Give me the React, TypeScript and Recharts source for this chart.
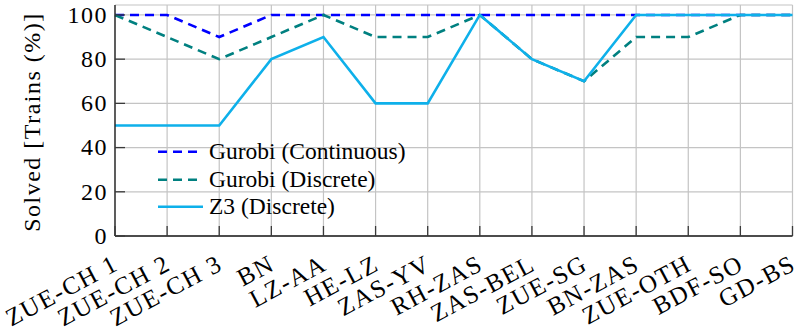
import React from 'react';
import { LineChart, Line, XAxis, YAxis, CartesianGrid, Legend } from 'recharts';

// Share of trains solved per instance, in percent
const categories = [
  'ZUE-CH 1', 'ZUE-CH 2', 'ZUE-CH 3', 'BN', 'LZ-AA', 'HE-LZ', 'ZAS-YV',
  'RH-ZAS', 'ZAS-BEL', 'ZUE-SG', 'BN-ZAS', 'ZUE-OTH', 'BDF-SO', 'GD-BS',
];
const gurobiContinuous = [100, 100, 90, 100, 100, 100, 100, 100, 100, 100, 100, 100, 100, 100];
const gurobiDiscrete = [100, 90, 80, 90, 100, 90, 90, 100, 80, 70, 90, 90, 100, 100];
const z3Discrete = [50, 50, 50, 80, 90, 60, 60, 100, 80, 70, 100, 100, 100, 100];
const yTicks = [0, 20, 40, 60, 80, 100];

const seriesNames = ['Gurobi (Continuous)', 'Gurobi (Discrete)', 'Z3 (Discrete)'];
const seriesKeys = ['cont', 'disc', 'z3'];
const seriesColors = ['#0000ff', '#008080', '#0eb0ea'];
const seriesDashes = ['9 6', '9 6', undefined];

const data = categories.map((name, i) => ({
  name,
  cont: gurobiContinuous[i],
  disc: gurobiDiscrete[i],
  z3: z3Discrete[i],
}));

const FONT = "'Liberation Serif', 'Times New Roman', serif";
const GRID = '#c4c4c4';
const FRAME = '#1a1a1a';
const TICK = '#3a3a3a';
const TICK_LEN = 10;

// plot frame edges (left/right/top/bottom of the drawing area)
const PLOT_LEFT = 115;
const PLOT_RIGHT = 792.5;
const PLOT_TOP = 5;
const PLOT_BOTTOM = 236;

const XTick = (props: any) => {
  const { x, payload } = props;
  return (
    <g>
      <line x1={x} x2={x} y1={PLOT_BOTTOM} y2={PLOT_BOTTOM - TICK_LEN} stroke={TICK} strokeWidth={1.3} />
      <text
        transform={`translate(${x + 5},${PLOT_BOTTOM + 33}) rotate(-28)`}
        textAnchor="end"
        fontFamily={FONT}
        fontSize={25}
        letterSpacing={1.6}
        fill="#000"
      >
        {payload.value}
      </text>
    </g>
  );
};

const TopTick = (props: any) => {
  const { x } = props;
  return <line x1={x} x2={x} y1={PLOT_TOP} y2={PLOT_TOP + TICK_LEN} stroke={TICK} strokeWidth={1.3} />;
};

const YTick = (props: any) => {
  const { y, payload } = props;
  return (
    <g>
      <line x1={PLOT_LEFT} x2={PLOT_LEFT + TICK_LEN} y1={y} y2={y} stroke={TICK} strokeWidth={1.3} />
      <text x={PLOT_LEFT - 7} y={y} dy="0.33em" textAnchor="end" fontFamily={FONT} fontSize={24} letterSpacing={1.5} fill="#000">
        {payload.value}
      </text>
    </g>
  );
};

const RightTick = (props: any) => {
  const { y } = props;
  return <line x1={PLOT_RIGHT} x2={PLOT_RIGHT - TICK_LEN} y1={y} y2={y} stroke={TICK} strokeWidth={1.3} />;
};

const LegendBox = () => (
  <div style={{ fontFamily: FONT, fontSize: 23.5, color: '#000' }}>
    {seriesNames.map((name, i) => (
      <div key={name} style={{ display: 'flex', alignItems: 'center', height: 27.5 }}>
        <svg width={59} height={27.5} style={{ display: 'block' }}>
          <line
            x1={8}
            x2={53}
            y1={13.75}
            y2={13.75}
            stroke={seriesColors[i]}
            strokeWidth={2.6}
            strokeDasharray={seriesDashes[i]}
          />
        </svg>
        <span style={{ whiteSpace: 'nowrap', lineHeight: '27.5px' }}>{name}</span>
      </div>
    ))}
  </div>
);

const YLabel = () => (
  <text
    transform="translate(40,122) rotate(-90)"
    textAnchor="middle"
    fontFamily={FONT}
    fontSize={24}
    letterSpacing={1.5}
    fill="#000"
  >
    Solved [Trains (%)]
  </text>
);

export default function App() {
  return (
    <div style={{ position: 'absolute', left: 0, top: 0, width: 800, height: 331, background: '#fff' }}>
      <LineChart width={800} height={331} data={data} margin={{ top: PLOT_TOP, right: 800 - PLOT_RIGHT, bottom: 0, left: 0 }}>
        <CartesianGrid stroke={GRID} strokeWidth={1.2} />
        <XAxis
          dataKey="name"
          height={331 - PLOT_BOTTOM}
          interval={0}
          padding={{ left: 0, right: 0 }}
          tick={<XTick />}
          tickLine={false}
          axisLine={{ stroke: FRAME, strokeWidth: 1.3 }}
        />
        <XAxis
          xAxisId="top"
          orientation="top"
          dataKey="name"
          height={0}
          interval={0}
          padding={{ left: 0, right: 0 }}
          tick={<TopTick />}
          tickLine={false}
          axisLine={{ stroke: FRAME, strokeWidth: 1.3 }}
        />
        <YAxis
          width={PLOT_LEFT}
          domain={[0, 104.5]}
          ticks={yTicks}
          interval={0}
          tick={<YTick />}
          tickLine={false}
          axisLine={{ stroke: FRAME, strokeWidth: 1.3 }}
          label={{ content: () => <YLabel /> }}
        />
        <YAxis
          yAxisId="right"
          orientation="right"
          width={0}
          domain={[0, 104.5]}
          ticks={yTicks}
          interval={0}
          tick={<RightTick />}
          tickLine={false}
          axisLine={{ stroke: FRAME, strokeWidth: 1.3 }}
        />
        {seriesKeys.map((key, i) => (
          <Line
            key={key}
            dataKey={key}
            name={seriesNames[i]}
            type="linear"
            stroke={seriesColors[i]}
            strokeWidth={2.6}
            strokeDasharray={seriesDashes[i]}
            dot={false}
            activeDot={false}
            isAnimationActive={false}
          />
        ))}
        <Legend
          layout="vertical"
          align="center"
          verticalAlign="middle"
          content={() => <LegendBox />}
          wrapperStyle={{ left: 150, top: 138, width: 300, height: 83 }}
        />
      </LineChart>
    </div>
  );
}
